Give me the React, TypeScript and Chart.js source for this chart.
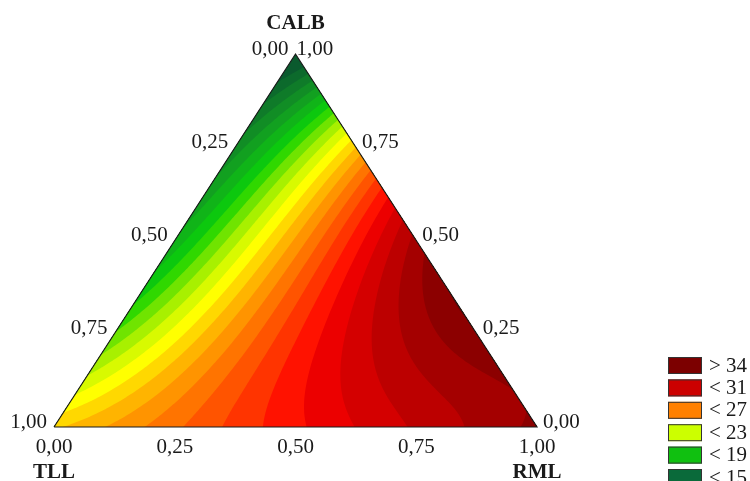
import { useEffect, useRef } from "react";
import { Chart, registerables } from "chart.js";

Chart.register(...registerables);

// Mixture components (ternary axes)
const componentNames = ["TLL", "RML", "CALB"];

// Response values at known mixture points
// (CALB fraction, RML fraction, response); TLL = 1 - RML - CALB
const sampleCALB = [
  1, 0, 0,
  0.9, 0.75, 0.6, 0.5, 0.35, 0.25, 0.15, 0.07,
  0.93, 0.9, 0.85, 0.8, 0.77, 0.72, 0.68, 0.6, 0.5, 0.39, 0.26, 0.15, 0.05,
  0, 0, 0, 0, 0, 0, 0, 0, 0, 0,
  0.75, 0.75, 0.75, 0.75,
  0.5, 0.5, 0.5, 0.5, 0.5, 0.5, 0.5, 0.5, 0.5,
  0.35, 0.35, 0.35,
  0.25, 0.25, 0.25, 0.25, 0.25, 0.25, 0.25, 0.25, 0.25, 0.25, 0.25, 0.25, 0.25,
  0.1, 0.1, 0.1, 0.1, 0.1, 0.1, 0.1, 0.1, 0.1,
];
const sampleRML = [
  0, 0, 1,
  0, 0, 0, 0, 0, 0, 0, 0,
  0.07, 0.1, 0.15, 0.2, 0.23, 0.28, 0.32, 0.4, 0.5, 0.61, 0.74, 0.85, 0.95,
  0.05, 0.15, 0.25, 0.33, 0.4, 0.5, 0.6, 0.72, 0.85, 0.95,
  0.06, 0.1, 0.15, 0.2,
  0.065, 0.1, 0.13, 0.17, 0.2, 0.25, 0.3, 0.36, 0.43,
  0.044, 0.07, 0.14,
  0.05, 0.1, 0.15, 0.2, 0.25, 0.3, 0.35, 0.38, 0.45, 0.5, 0.57, 0.63, 0.69,
  0.06, 0.12, 0.18, 0.25, 0.31, 0.37, 0.5, 0.65, 0.8,
];
const sampleValue = [
  12, 24.8, 34.8,
  13.5, 15.3, 17, 18, 18.8, 20, 22, 23.5,
  14.5, 16, 19, 22, 24, 27.5, 30, 31.8, 33.3, 35, 36.3, 36, 35,
  25, 26.3, 27.6, 28.9, 30, 30.8, 31.5, 33, 34, 34.8,
  17, 18.8, 20.5, 22.5,
  19, 20.5, 22, 23.5, 24.5, 26.5, 28.3, 30.5, 32,
  19, 20.5, 23.3,
  20.8, 23, 24.3, 25.5, 26.5, 28.2, 29.3, 30.3, 31.5, 32.3, 33.3, 34, 34.8,
  24.3, 25.3, 26.3, 27.3, 28.3, 29.5, 31, 33, 35.5,
];

// Contour levels and band fill colours (band k lies below contourLevels[k])
const contourLevels = [13, 14, 15, 16, 17, 18, 19, 20, 21, 22, 23, 24, 25, 26, 27, 28, 29, 30, 31, 32, 33, 34, 35, 36];
const bandColors = [
  "#0a5a2e", "#0c6a2c", "#0f7b29", "#118d25", "#12a020", "#10b418", "#0cc80e",
  "#30d800", "#70e400", "#a8f000", "#d8fa00", "#ffff00", "#ffd800", "#ffb400",
  "#ff9400", "#ff7400", "#ff5400", "#ff3400", "#ff1200", "#ec0000", "#d40000",
  "#bc0000", "#a40000", "#8c0000", "#780000",
];

// Axis ticks
const tickValues = [0, 0.25, 0.5, 0.75, 1];
const tickLabels = ["0,00", "0,25", "0,50", "0,75", "1,00"];

// Legend
const legendLabels = ["> 34", "< 31", "< 27", "< 23", "< 19", "< 15"];
const legendColors = ["#7c0000", "#cc0000", "#ff8000", "#ccff00", "#10c010", "#0a6a3a"];

const FONT = '"Liberation Serif", "Times New Roman", serif';

// Scheffé full-quartic mixture model terms
function terms(a: number, b: number, c: number) {
  return [
    a, b, c,
    a * b, a * c, b * c,
    a * b * (a - b), a * c * (a - c), b * c * (b - c),
    a * b * (a - b) * (a - b), a * c * (a - c) * (a - c), b * c * (b - c) * (b - c),
    a * a * b * c, a * b * b * c, a * b * c * c,
  ];
}

function fitModel() {
  const p = 15;
  const M: number[][] = [];
  for (let i = 0; i < p; i++) M.push(new Array(p + 1).fill(0));
  for (let s = 0; s < sampleValue.length; s++) {
    const c = sampleCALB[s];
    const b = sampleRML[s];
    const a = Math.max(0, 1 - b - c);
    const t = terms(a, b, c);
    for (let i = 0; i < p; i++) {
      for (let j = 0; j < p; j++) M[i][j] += t[i] * t[j];
      M[i][p] += t[i] * sampleValue[s];
    }
  }
  for (let i = 0; i < p; i++) M[i][i] += 1e-7;
  for (let col = 0; col < p; col++) {
    let piv = col;
    for (let r = col + 1; r < p; r++) if (Math.abs(M[r][col]) > Math.abs(M[piv][col])) piv = r;
    const tmp = M[col];
    M[col] = M[piv];
    M[piv] = tmp;
    for (let r = 0; r < p; r++) {
      if (r === col) continue;
      const f = M[r][col] / M[col][col];
      for (let k = col; k <= p; k++) M[r][k] -= f * M[col][k];
    }
  }
  return M.map((row, i) => row[p] / row[i]);
}

const contourPlugin = {
  id: "ternaryContour",
  beforeDatasetsDraw(chart: any) {
    const ctx = chart.ctx as CanvasRenderingContext2D;
    const xs = chart.scales.x;
    const ys = chart.scales.y;
    const coef = fitModel();
    const response = (a: number, b: number, c: number) => {
      const t = terms(a, b, c);
      let s = 0;
      for (let i = 0; i < t.length; i++) s += coef[i] * t[i];
      return s;
    };
    const N = 100;
    const px: number[][] = [];
    const py: number[][] = [];
    const pv: number[][] = [];
    for (let i = 0; i <= N; i++) {
      px.push([]);
      py.push([]);
      pv.push([]);
      for (let j = 0; j <= N - i; j++) {
        const c = i / N;
        const b = j / N;
        const a = Math.max(0, 1 - b - c);
        px[i].push(xs.getPixelForValue(b + c / 2));
        py[i].push(ys.getPixelForValue(c));
        pv[i].push(response(a, b, c));
      }
    }
    // all triangles listed counter-clockwise
    const tris: number[][] = [];
    for (let i = 0; i < N; i++) {
      for (let j = 0; j < N - i; j++) {
        tris.push([i, j, i, j + 1, i + 1, j]);
        if (j < N - i - 1) tris.push([i, j + 1, i + 1, j + 1, i + 1, j]);
      }
    }
    ctx.save();
    for (let k = 0; k < bandColors.length; k++) {
      const path = new Path2D();
      const L = k === 0 ? -Infinity : contourLevels[k - 1];
      for (const t of tris) {
        const X = [px[t[0]][t[1]], px[t[2]][t[3]], px[t[4]][t[5]]];
        const Y = [py[t[0]][t[1]], py[t[2]][t[3]], py[t[4]][t[5]]];
        const V = [pv[t[0]][t[1]], pv[t[2]][t[3]], pv[t[4]][t[5]]];
        const mn = Math.min(V[0], V[1], V[2]);
        const mx = Math.max(V[0], V[1], V[2]);
        if (mx < L) continue;
        if (mn >= L) {
          path.moveTo(X[0], Y[0]);
          path.lineTo(X[1], Y[1]);
          path.lineTo(X[2], Y[2]);
          path.closePath();
          continue;
        }
        const ox: number[] = [];
        const oy: number[] = [];
        for (let m = 0; m < 3; m++) {
          const n = (m + 1) % 3;
          const inM = V[m] >= L;
          const inN = V[n] >= L;
          if (inM) {
            ox.push(X[m]);
            oy.push(Y[m]);
          }
          if (inM !== inN) {
            const f = (L - V[m]) / (V[n] - V[m]);
            ox.push(X[m] + f * (X[n] - X[m]));
            oy.push(Y[m] + f * (Y[n] - Y[m]));
          }
        }
        if (ox.length >= 3) {
          path.moveTo(ox[0], oy[0]);
          for (let m = 1; m < ox.length; m++) path.lineTo(ox[m], oy[m]);
          path.closePath();
        }
      }
      ctx.fillStyle = bandColors[k];
      ctx.fill(path);
    }
    ctx.restore();
  },
  afterDatasetsDraw(chart: any) {
    const ctx = chart.ctx as CanvasRenderingContext2D;
    const xs = chart.scales.x;
    const ys = chart.scales.y;
    const P = (b: number, c: number) => [xs.getPixelForValue(b + c / 2), ys.getPixelForValue(c)];
    ctx.save();
    ctx.fillStyle = "#1a1a1a";
    ctx.font = `21px ${FONT}`;
    ctx.textBaseline = "middle";
    tickValues.forEach((t, k) => {
      // bottom axis: RML fraction
      const [bx, by] = P(t, 0);
      ctx.textAlign = "center";
      ctx.fillText(tickLabels[k], bx, by + 20);
      // left edge: TLL fraction
      const [lx, ly] = P(0, 1 - t);
      ctx.textAlign = "right";
      ctx.fillText(tickLabels[k], lx - 7, ly - 5);
      // right edge: CALB fraction
      const [rx, ry] = P(1 - t, t);
      ctx.textAlign = "left";
      ctx.fillText(tickLabels[k], rx + (t === 1 ? 1 : 6), ry - 5);
    });
    ctx.font = `bold 21px ${FONT}`;
    ctx.textAlign = "center";
    const [ax, ay] = P(0, 1);
    ctx.fillText(componentNames[2], ax, ay - 30);
    const [tx, ty] = P(0, 0);
    ctx.fillText(componentNames[0], tx, ty + 46);
    const [qx, qy] = P(1, 0);
    ctx.fillText(componentNames[1], qx, qy + 46);

    // legend
    ctx.font = `21px ${FONT}`;
    ctx.textAlign = "left";
    legendLabels.forEach((lab, k) => {
      const y0 = 357 + k * 22.4;
      ctx.fillStyle = legendColors[k];
      ctx.fillRect(668, y0, 34, 17);
      ctx.strokeStyle = "#333";
      ctx.lineWidth = 1;
      ctx.strokeRect(668.5, y0 + 0.5, 33, 16);
      ctx.fillStyle = "#1a1a1a";
      ctx.fillText(lab, 709, y0 + 9);
    });
    ctx.restore();
  },
};

export default function App() {
  const ref = useRef<HTMLCanvasElement | null>(null);
  useEffect(() => {
    if (!ref.current) return;
    const x0 = 54, x1 = 537, yBase = 427, yTop = 54;
    const ux = x1 - x0;
    const uy = yBase - yTop;
    const chart = new Chart(ref.current, {
      type: "scatter",
      data: {
        datasets: [
          {
            data: [
              { x: 0, y: 0 },
              { x: 1, y: 0 },
              { x: 0.5, y: 1 },
              { x: 0, y: 0 },
            ],
            showLine: true,
            borderColor: "#1a1a1a",
            borderWidth: 1.2,
            pointRadius: 0,
            fill: false,
          },
        ],
      },
      options: {
        responsive: false,
        animation: false,
        layout: { padding: 0 },
        plugins: { legend: { display: false }, tooltip: { enabled: false } },
        scales: {
          x: { type: "linear", display: false, min: -x0 / ux, max: (750 - x0) / ux },
          y: { type: "linear", display: false, min: -(481 - yBase) / uy, max: yBase / uy },
        },
      },
      plugins: [contourPlugin],
    });
    return () => chart.destroy();
  }, []);
  return (
    <div style={{ position: "fixed", left: 0, top: 0, width: 750, height: 481, background: "#fff" }}>
      <canvas ref={ref} width={750} height={481} />
    </div>
  );
}
